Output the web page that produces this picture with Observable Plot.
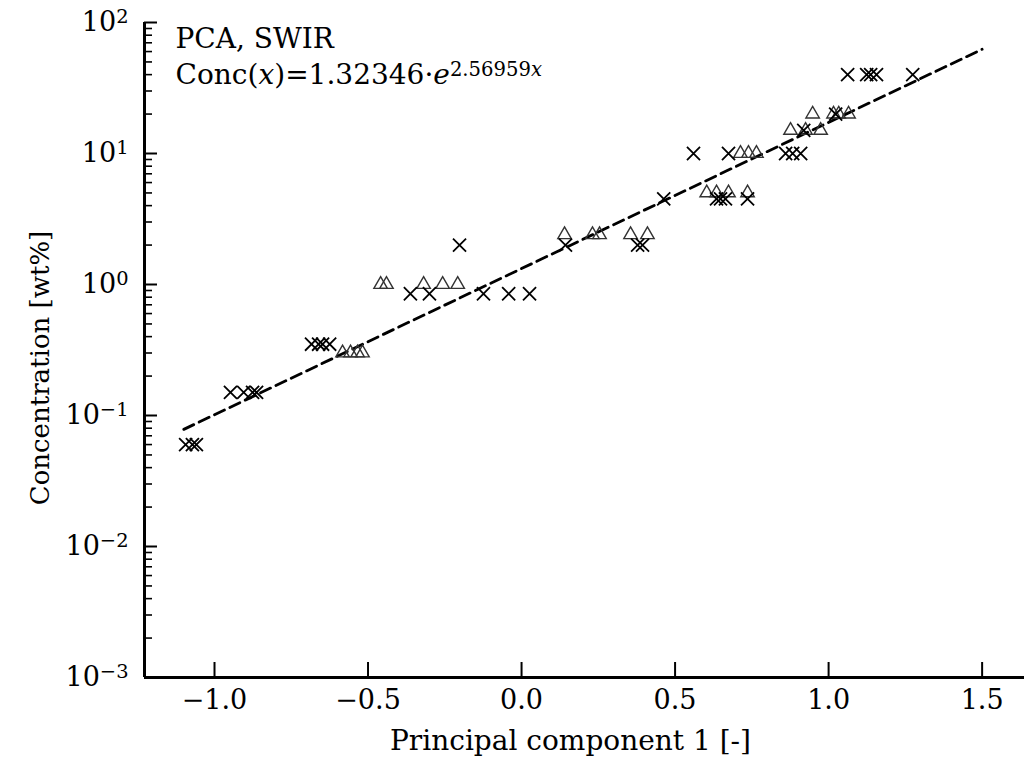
<!DOCTYPE html>
<html><head><meta charset="utf-8">
<script src="https://cdn.jsdelivr.net/npm/d3@7"></script>
<script src="https://cdn.jsdelivr.net/npm/@observablehq/plot@0.6"></script>
<style>body{margin:0;background:#fff} svg{display:block}</style>
</head><body><div id="chart"></div>
<script>
// Crosses (x markers)
const crossX = [-1.094, -1.072, -1.059,
  -0.948, -0.905, -0.876, -0.863,
  -0.684, -0.661, -0.648, -0.625,
  -0.362, -0.300, -0.124, -0.042, 0.026,
  -0.202, 0.143, 0.378, 0.394,
  0.463, 0.635, 0.648, 0.664, 0.736,
  0.560, 0.674, 0.860, 0.883, 0.909,
  0.919, 1.023,
  1.062, 1.124, 1.137, 1.156, 1.274];
const crossY = [0.06, 0.06, 0.06,
  0.15, 0.15, 0.15, 0.15,
  0.35, 0.35, 0.35, 0.35,
  0.85, 0.85, 0.85, 0.85, 0.85,
  2.0, 2.0, 2.0, 2.0,
  4.5, 4.5, 4.5, 4.5, 4.5,
  10, 10, 10, 10, 10,
  15, 20,
  40, 40, 40, 40, 40];
// Open triangles
const triX = [-0.583, -0.557, -0.534, -0.518,
  -0.459, -0.440, -0.319, -0.257, -0.208,
  0.140, 0.231, 0.254, 0.355, 0.410,
  0.603, 0.635, 0.674, 0.736,
  0.713, 0.739, 0.765,
  0.876, 0.925, 0.974,
  0.948, 1.016, 1.033, 1.065];
const triY = [0.3, 0.3, 0.3, 0.3,
  1.0, 1.0, 1.0, 1.0, 1.0,
  2.4, 2.4, 2.4, 2.4, 2.4,
  5, 5, 5, 5,
  10, 10, 10,
  15, 15, 15,
  20, 20, 20, 20];
// Fit line parameters
const fitA = 1.32346, fitB = 2.56959;
const fitRange = [-1.1, 1.5];
// Axes
const xDomain = [-1.228, 1.638];
const yDomain = [1e-3, 1e2];
const xTicks = [-1.0, -0.5, 0.0, 0.5, 1.0, 1.5];
const yMajor = [1e-3, 1e-2, 1e-1, 1e0, 1e1, 1e2];
const yMinorMult = [2, 3, 4, 5, 6, 7, 8, 9];
const yMinor = yMajor.slice(0, -1).flatMap(d => yMinorMult.map(m => d * m));
const xLabel = "Principal component 1 [-]";
const yLabel = "Concentration [wt%]";
const annot1 = "PCA, SWIR";
const annot2 = "Conc(x)=1.32346·e^2.56959x";

const crosses = crossX.map((x, i) => ({x, y: crossY[i]}));
const tris = triX.map((x, i) => ({x, y: triY[i]}));
const fitPts = fitRange.map(x => ({x, y: fitA * Math.exp(fitB * x)}));

const FONT = "'DejaVu Serif', 'Liberation Serif', serif";
const chart = Plot.plot({
  width: 1024, height: 759,
  marginLeft: 144, marginRight: 0, marginTop: 22, marginBottom: 82,
  style: {fontFamily: FONT, fontSize: "26px", background: "#fff", color: "#000"},
  x: {domain: xDomain},
  y: {type: "log", domain: yDomain},
  marks: [
    Plot.line(fitPts, {x: "x", y: "y", stroke: "#000", strokeWidth: 2.8, strokeDasharray: "11,6"}),
    Plot.dot(tris, {x: "x", y: "y", symbol: "triangle", r: 5, stroke: "#333", fill: "none", strokeWidth: 1.4}),
    Plot.dot(crosses, {x: "x", y: "y", symbol: "times", r: 6, stroke: "#000", strokeWidth: 1.8}),
    Plot.ruleX(xTicks, {y1: yDomain[0], y2: yDomain[0], insetTop: -15, stroke: "#000", strokeWidth: 2}),
    Plot.ruleY(yMajor, {x1: xDomain[0], x2: xDomain[0], insetRight: -13, stroke: "#000", strokeWidth: 2}),
    Plot.ruleY(yMinor, {x1: xDomain[0], x2: xDomain[0], insetRight: -8, stroke: "#000", strokeWidth: 1.6}),
    Plot.ruleX([xDomain[0]], {y1: yDomain[0], y2: yDomain[1], stroke: "#000", strokeWidth: 3}),
    Plot.ruleY([yDomain[0]], {x1: xDomain[0], x2: xDomain[1], stroke: "#000", strokeWidth: 3}),
    Plot.axisX({ticks: xTicks, tickSize: 0, tickPadding: 12, tickFormat: d3.format(".1f"), label: null, fontSize: 27}),
    Plot.axisY({ticks: yMajor, tickSize: 0, tickPadding: 16, tickFormat: d => "10^" + Math.round(Math.log10(d)), label: null, fontSize: 27}),
    Plot.text([xLabel], {frameAnchor: "bottom", textAnchor: "middle", lineAnchor: "bottom", dx: -14, dy: 72, fontSize: 28}),
    Plot.text([yLabel], {frameAnchor: "left", textAnchor: "middle", lineAnchor: "middle", rotate: -90, dx: -104, dy: 18, fontSize: 26}),
    Plot.text([annot1], {frameAnchor: "top-left", textAnchor: "start", lineAnchor: "top", dx: 31, dy: 6, fontSize: 28, letterSpacing: "0.8px"}),
    Plot.text([annot2], {frameAnchor: "top-left", textAnchor: "start", lineAnchor: "top", dx: 31, dy: 42, fontSize: 28, letterSpacing: "0.8px"})
  ]
});
document.getElementById("chart").appendChild(chart);

// superscripts in y tick labels and annotation
const svg = d3.select(chart);
svg.selectAll("text").each(function() {
  const t = this.textContent;
  const sel = d3.select(this);
  if (/^10\^-?\d$/.test(t)) {
    const e = t.split("^")[1].replace("-", "\u2212");
    sel.text("10");
    sel.append("tspan").attr("dy", "-0.42em").attr("font-size", "0.72em").text(e);
  } else if (t === annot2) {
    sel.text("");
    sel.append("tspan").text("Conc(");
    sel.append("tspan").attr("font-style", "italic").text("x");
    sel.append("tspan").text(")=1.32346·");
    sel.append("tspan").attr("font-style", "italic").text("e");
    sel.append("tspan").attr("dy", "-0.45em").attr("font-size", "0.7em").text("2.56959");
    sel.append("tspan").attr("font-size", "0.7em").attr("font-style", "italic").text("x");
  }
});
</script>
</body></html>
